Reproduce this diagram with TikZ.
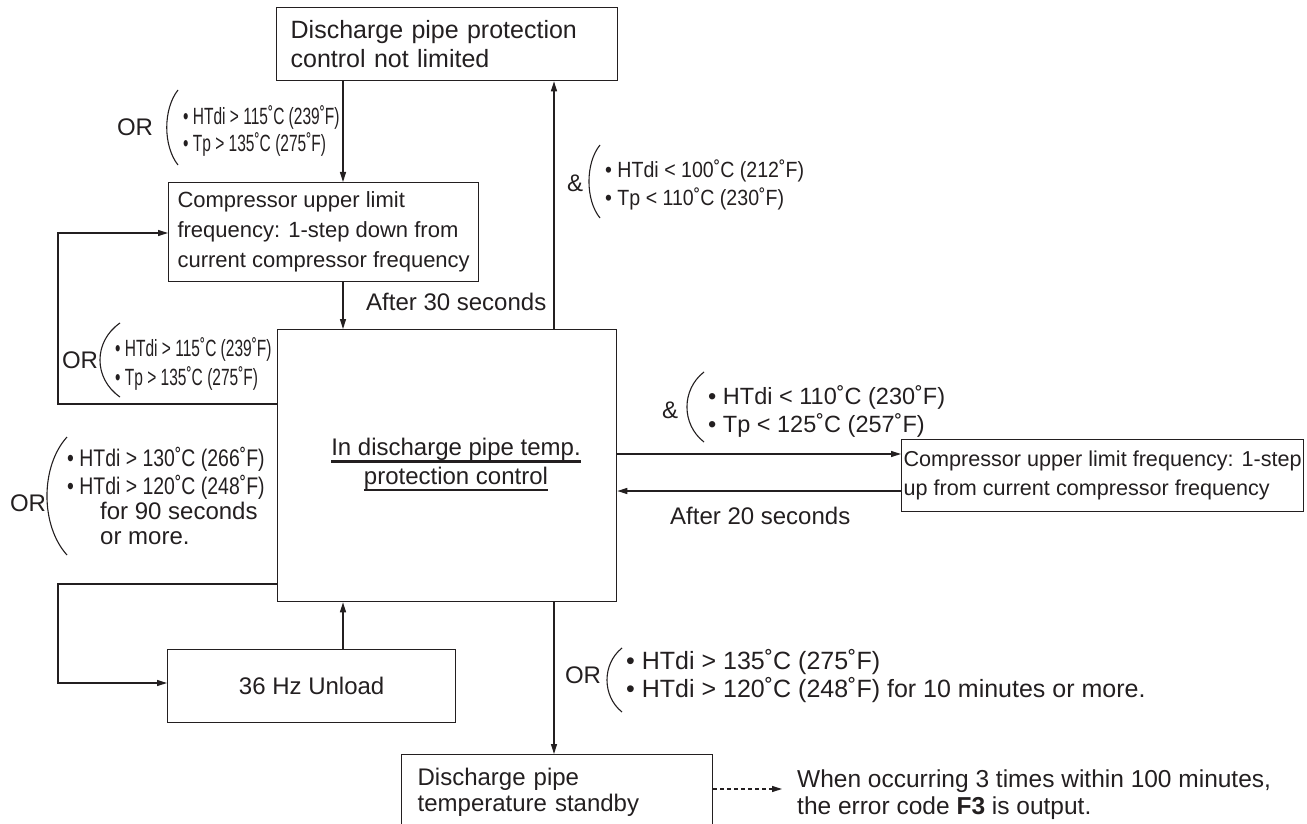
\documentclass[tikz,border=0pt]{standalone}
\usepackage{fontspec}
\setmainfont{Liberation Sans}
\newfontfamily\fA[FakeStretch=0.66]{Liberation Sans}
\newfontfamily\fB[FakeStretch=0.89]{Liberation Sans}
\newfontfamily\fC[FakeStretch=0.81]{Liberation Sans}
\usetikzlibrary{arrows.meta}
\definecolor{ink}{HTML}{231F20}
\newcommand\thickul[1]{\setbox0=\hbox{#1}\leavevmode\rlap{\vrule width\wd0 height -4.5pt depth 7pt}\box0}
\begin{document}
\begin{tikzpicture}[x=1pt,y=-1pt, color=ink,
  box/.style={draw=ink, line width=1.3pt, inner sep=0pt},
  arr/.style={draw=ink, line width=1.3pt, -{Triangle[length=10pt,width=6pt]}},
  brk/.style={draw=ink, line width=1.1pt},
  txt/.style={inner sep=0pt, anchor=base west},
  lbl/.style={inner sep=0pt, font=\fontsize{24}{28}\selectfont},
]
\useasboundingbox (0,0) rectangle (1307,824);
\clip (0,0) rectangle (1307,824);

% boxes
\node[box, anchor=north west, minimum width=341pt, minimum height=73pt,
      text width=313pt, inner xsep=14pt, align=left,
      font=\fontsize{25}{29}\selectfont] (T) at (276,7)
  {Discharge pipe protection\\control not limited};
\node[box, anchor=north west, minimum width=310pt, minimum height=99pt,
      align=left, font=\fontsize{22}{30}\selectfont] (C1) at (168,182)
  {Compressor upper limit\\frequency: 1-step down from\\current compressor frequency};
\node[box, anchor=north west, minimum width=339pt, minimum height=272pt] (M) at (277,329) {};
\node[inner sep=0pt, align=center, font=\fontsize{24}{28.5}\selectfont] (Mt) at (456,465)
  {\thickul{In discharge pipe temp.}\\\thickul{protection control}};
\node[box, anchor=north west, minimum width=402pt, minimum height=72pt,
      align=left, font=\fontsize{21.6}{29.5}\selectfont] (R) at (901,439)
  {Compressor upper limit frequency: 1-step\\up from current compressor frequency};
\node[box, anchor=north west, minimum width=288pt, minimum height=73pt,
      font=\fontsize{24}{28}\selectfont] (U) at (167,649) {36 Hz Unload};
\node[box, anchor=north west, minimum width=311pt, minimum height=75.5pt,
      text width=279pt, inner xsep=16pt, align=left,
      font=\fontsize{24}{26}\selectfont] (S) at (401,754)
  {Discharge pipe\\temperature standby};

% texts
\node[txt, font=\fontsize{24}{28}\selectfont] (A30) at (366,310) {After 30 seconds};
\node[txt, font=\fontsize{24}{28}\selectfont] (A20) at (670,524) {After 20 seconds};
\node[txt, inner xsep=15pt, font=\fontsize{24.5}{28}\selectfont] (W1) at (782,787)
  {When occurring 3 times within 100 minutes,};
\node[txt, font=\fontsize{24.5}{28}\selectfont] (W2) at (797,814)
  {the error code \textbf{F3} is output.};

% top OR
\node[lbl] (ORt) at (135,127) {OR};
\node[txt, font=\fA\fontsize{23.5}{27}\selectfont] (ct1) at (183,125) {• HTdi > 115˚C (239˚F)};
\node[txt, font=\fA\fontsize{23.5}{27}\selectfont] (ct2) at (183,152) {• Tp > 135˚C (275˚F)};
\draw[brk] (178,90) .. controls (163,109) and (163,146) .. (178,165);

% left OR 1
\node[lbl] (ORl) at (80,360) {OR};
\node[txt, font=\fA\fontsize{23.5}{27}\selectfont] (cl1) at (115,356) {• HTdi > 115˚C (239˚F)};
\node[txt, font=\fA\fontsize{23.5}{27}\selectfont] (cl2) at (115,385) {• Tp > 135˚C (275˚F)};
\draw[brk] (120,323) .. controls (93.3,341.5) and (93.3,378.5) .. (120,397);

% upper &
\node[lbl] (amp1) at (575,183) {\&};
\node[txt, font=\fB\fontsize{22}{27}\selectfont] (ca1) at (605,178) {• HTdi < 100˚C (212˚F)};
\node[txt, font=\fB\fontsize{22}{27}\selectfont] (ca2) at (605,205) {• Tp < 110˚C (230˚F)};
\draw[brk] (600,145) .. controls (585.3,163) and (585.3,200) .. (600,218);

% middle &
\node[lbl] (amp2) at (670,410) {\&};
\node[txt, font=\fontsize{23.5}{28}\selectfont] (cm1) at (708,404.5) {• HTdi < 110˚C (230˚F)};
\node[txt, font=\fontsize{23.5}{28}\selectfont] (cm2) at (708,432.5) {• Tp < 125˚C (257˚F)};
\draw[brk] (704,372) .. controls (681.3,389.5) and (681.3,424.5) .. (704,442);

% left OR 2
\node[lbl] (OR2) at (28,503) {OR};
\node[txt, font=\fC\fontsize{24}{28}\selectfont] (cL1) at (67,466) {• HTdi > 130˚C (266˚F)};
\node[txt, font=\fC\fontsize{24}{28}\selectfont] (cL2) at (67,494) {• HTdi > 120˚C (248˚F)};
\node[txt, font=\fontsize{24}{28}\selectfont] (cL3) at (100,519) {for 90 seconds};
\node[txt, font=\fontsize{24}{28}\selectfont] (cL4) at (100,544) {or more.};
\draw[brk] (67,437) .. controls (40.3,466.5) and (40.3,525.5) .. (67,555);

% bottom OR
\node[lbl] (OR3) at (583,675) {OR};
\node[txt, font=\fontsize{25}{28}\selectfont] (cb1) at (626,669) {• HTdi > 135˚C (275˚F)};
\node[txt, font=\fontsize{25}{28}\selectfont] (cb2) at (626,697) {• HTdi > 120˚C (248˚F) for 10 minutes or more.};
\draw[brk] (622,648) .. controls (602,664) and (602,696) .. (622,712);

% helper coordinates
\coordinate (xA) at (343,0);
\coordinate (xB) at (554,0);
\coordinate (yR1) at (0,454);
\coordinate (yR2) at (0,491);
\coordinate (L1a) at (58,404);
\coordinate (L1b) at (58,233);
\coordinate (L2a) at (58,584);
\coordinate (L2b) at (58,683);
\coordinate (yD) at (0,789);

% connectors
\draw[arr] (T.south -| xA) -- (C1.north -| xA);
\draw[arr] (C1.south -| xA) -- (M.north -| xA);
\draw[arr] (M.north -| xB) -- (T.south -| xB);
\draw[arr] (M.east |- yR1) -- (R.west |- yR1);
\draw[arr] (R.west |- yR2) -- (M.east |- yR2);
\draw[arr] (M.west |- L1a) -- (L1a) -- (L1b) -- (C1.west |- L1b);
\draw[arr] (M.west |- L2a) -- (L2a) -- (L2b) -- (U.west |- L2b);
\draw[arr] (U.north -| xA) -- (M.south -| xA);
\draw[arr] (M.south -| xB) -- (S.north -| xB);
\draw[arr, dash pattern=on 4pt off 3pt] (S.east |- yD) -- (W1.west |- yD);
\end{tikzpicture}
\end{document}
